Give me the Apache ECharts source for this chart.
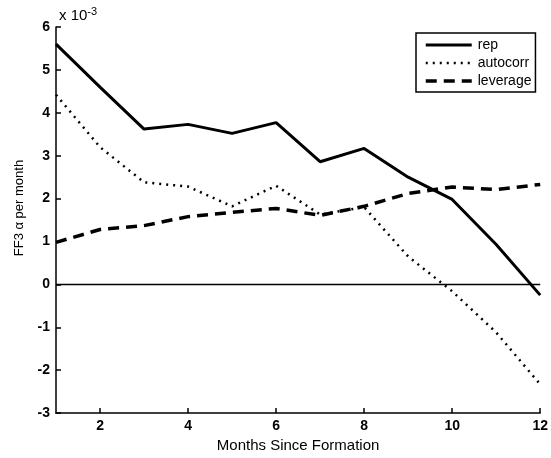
<!DOCTYPE html>
<html>
<head>
<meta charset="utf-8">
<script src="https://cdn.jsdelivr.net/npm/echarts@6/dist/echarts.min.js"></script>
<style>
  html, body { margin: 0; padding: 0; background: #fff; }
  #main { width: 551px; height: 458px; }
</style>
</head>
<body>
<div id="main"></div>
<script>
// months since formation
var months = [1, 2, 3, 4, 5, 6, 7, 8, 9, 10, 11, 12];
// FF3 alpha per month (x 10^-3)
var rep = [5.6, 4.6, 3.62, 3.73, 3.52, 3.77, 2.86, 3.17, 2.5, 1.98, 0.93, -0.25];
var autocorr = [4.42, 3.2, 2.38, 2.28, 1.82, 2.3, 1.63, 1.8, 0.65, -0.16, -1.12, -2.33];
var leverage = [0.98, 1.28, 1.37, 1.58, 1.68, 1.77, 1.61, 1.82, 2.12, 2.27, 2.21, 2.33];
var xTicks = [2, 4, 6, 8, 10, 12];

var chart = echarts.init(document.getElementById("main"));

function pairs(ys) {
    return months.map(function (m, i) { return [m, ys[i]]; });
}

var font = 'Liberation Sans, Arial, sans-serif';

chart.setOption({
    animation: false,
    backgroundColor: '#fff',
    textStyle: { fontFamily: font, color: '#000' },
    title: {
        text: 'x 10{s|-3}',
        left: 54,
        top: 1,
        textStyle: {
            fontFamily: font,
            fontSize: 15,
            fontWeight: 'normal',
            color: '#000',
            rich: { s: { fontSize: 11, verticalAlign: 'top', padding: [0, 0, 9, 0], fontFamily: font, color: '#000' } }
        }
    },
    grid: { left: 56, right: 7, top: 27, bottom: 44 },
    legend: {
        orient: 'vertical',
        left: 416,
        top: 33,
        backgroundColor: '#fff',
        borderColor: '#000',
        borderWidth: 1.5,
        borderRadius: 0,
        padding: [5, 4, 4, 8],
        itemGap: 4,
        itemWidth: 46,
        itemHeight: 14,
        itemStyle: { opacity: 0 },
        textStyle: { fontFamily: font, fontSize: 14, color: '#000', padding: [0, 0, 0, 1] },
        data: [
            { name: 'rep', lineStyle: { width: 3 } },
            { name: 'autocorr', lineStyle: { width: 2.5 } },
            { name: 'leverage', lineStyle: { width: 3.5 } }
        ]
    },
    xAxis: {
        type: 'value',
        min: 1,
        max: 12,
        name: 'Months Since Formation',
        nameLocation: 'middle',
        nameGap: 22,
        nameTextStyle: { fontFamily: font, fontSize: 15, color: '#000' },
        axisLine: { onZero: false, lineStyle: { color: '#000', width: 1.5 } },
        axisTick: { inside: true, length: 5, customValues: xTicks, lineStyle: { color: '#000', width: 1.5 } },
        axisLabel: { customValues: xTicks, fontFamily: font, fontSize: 14, fontWeight: 'bold', color: '#000', margin: 6 },
        splitLine: { show: false }
    },
    yAxis: {
        type: 'value',
        min: -3,
        max: 6,
        interval: 1,
        name: 'FF3 \u03b1 per month',
        nameLocation: 'middle',
        nameGap: 30,
        nameTextStyle: { fontFamily: font, fontSize: 13, color: '#000', padding: [0, 0, 0, 24] },
        axisLine: { lineStyle: { color: '#000', width: 1.5 } },
        axisTick: { inside: true, length: 5, lineStyle: { color: '#000', width: 1.5 } },
        axisLabel: { fontFamily: font, fontSize: 14, fontWeight: 'bold', color: '#000', margin: 6 },
        splitLine: { show: false }
    },
    series: [
        {
            name: 'zero',
            type: 'line',
            silent: true,
            symbol: 'none',
            data: [[1, 0], [12, 0]],
            lineStyle: { color: '#000', width: 1.5 },
            z: 1
        },
        {
            name: 'rep',
            type: 'line',
            symbol: 'none',
            data: pairs(rep),
            lineStyle: { color: '#000', width: 3 },
            itemStyle: { color: '#000' }
        },
        {
            name: 'autocorr',
            type: 'line',
            symbol: 'none',
            data: pairs(autocorr),
            lineStyle: { color: '#000', width: 2.5, type: [2, 5] },
            itemStyle: { color: '#000' }
        },
        {
            name: 'leverage',
            type: 'line',
            symbol: 'none',
            data: pairs(leverage),
            lineStyle: { color: '#000', width: 3.5, type: [11, 7] },
            itemStyle: { color: '#000' }
        }
    ]
});
</script>
</body>
</html>
